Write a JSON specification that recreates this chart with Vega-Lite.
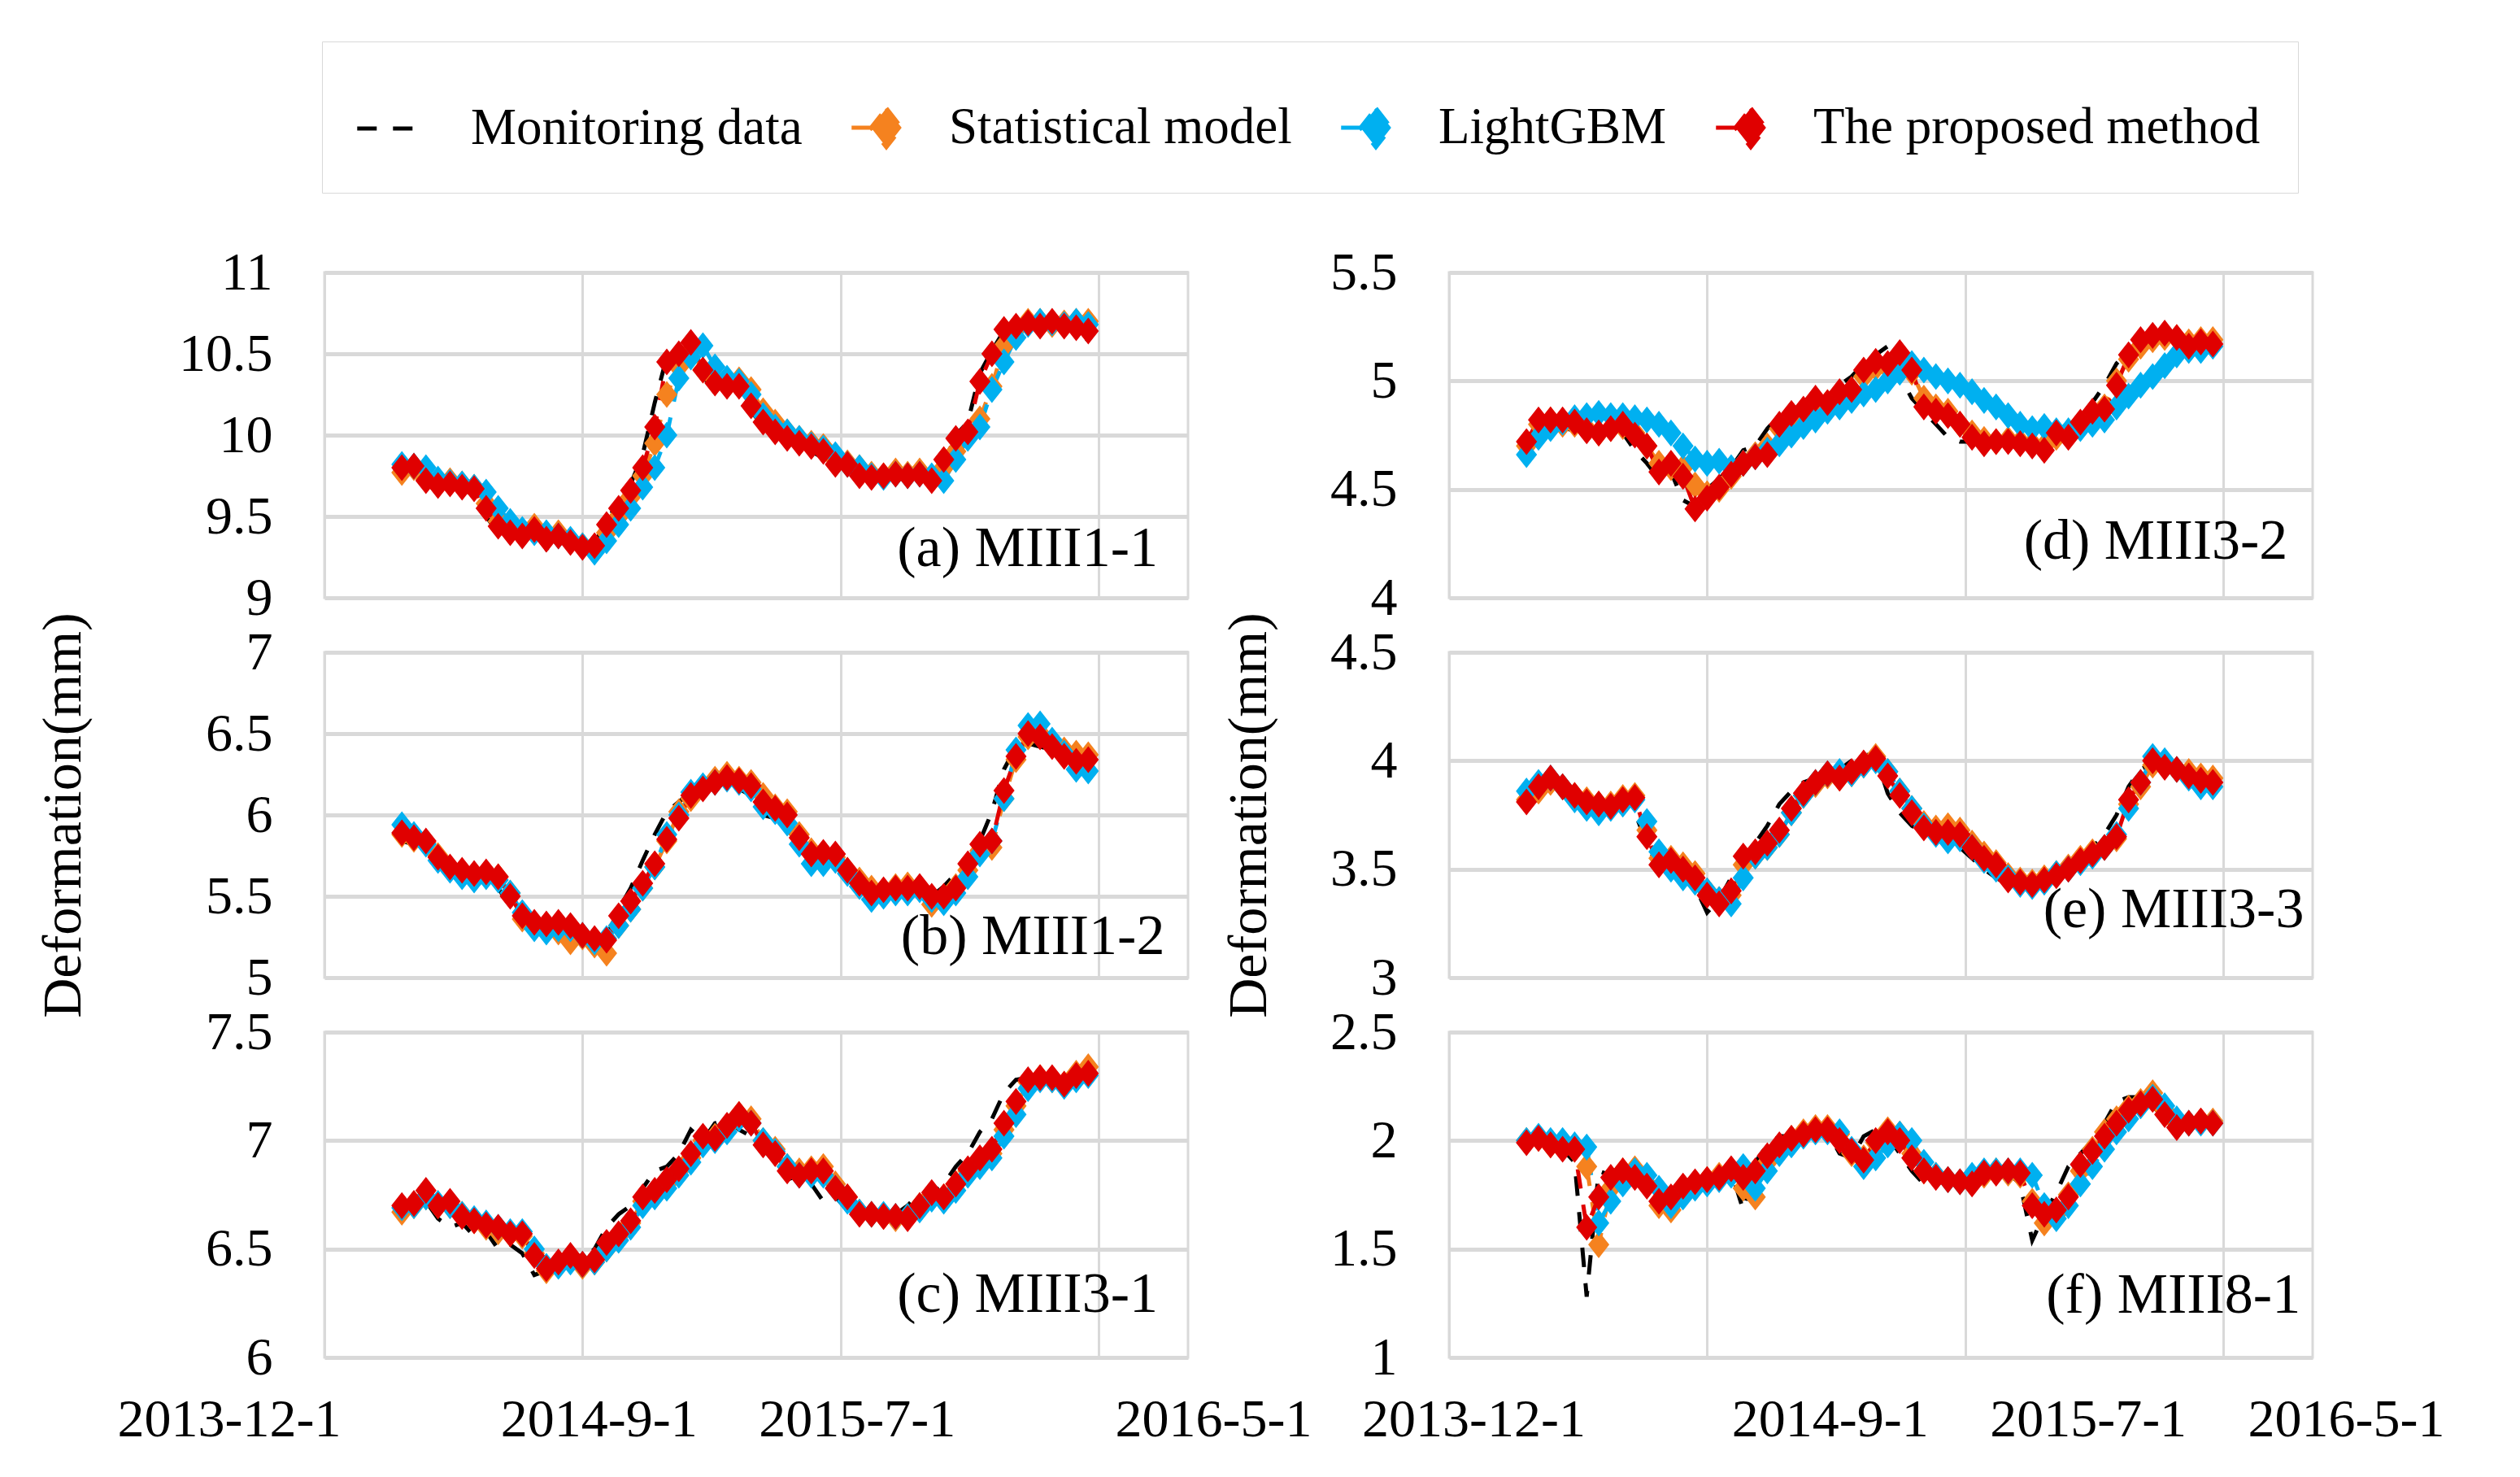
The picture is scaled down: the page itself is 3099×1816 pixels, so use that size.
{
"$schema":"https://vega.github.io/schema/vega-lite/v6.json",
"background":"white",
"padding":{"left":43,"top":50,"right":0,"bottom":0},
"config":{
"font":"Liberation Serif",
"view":{"stroke":"#D9D9D9","strokeWidth":3},
"axis":{"labelFont":"Liberation Serif","labelFontSize":66,"labelColor":"black","labelLimit":1000,"titleFont":"Liberation Serif","titleFontSize":68,"titleFontWeight":"normal","titleColor":"black","domain":false,"ticks":false,"gridColor":"#D9D9D9"},
"axisY":{"gridWidth":5,"labelPadding":64},
"axisX":{"gridWidth":3},
"line":{"strokeDash":[24,20],"strokeWidth":5},
"point":{"filled":true,"size":6209,"opacity":1,"strokeWidth":0},
"text":{"font":"Liberation Serif","fontSize":70,"align":"right","baseline":"middle"}
},
"datasets":{
"a":[
{"t":90,"m":9.78,"s":9.77,"l":9.82,"r":9.80},
{"t":104,"m":9.80,"s":9.80,"l":9.81,"r":9.81},
{"t":118,"m":9.70,"s":9.73,"l":9.80,"r":9.72},
{"t":132,"m":9.66,"s":9.70,"l":9.73,"r":9.69},
{"t":146,"m":9.70,"s":9.72,"l":9.71,"r":9.70},
{"t":160,"m":9.66,"s":9.70,"l":9.70,"r":9.68},
{"t":174,"m":9.64,"s":9.68,"l":9.68,"r":9.67},
{"t":188,"m":9.50,"s":9.58,"l":9.65,"r":9.55},
{"t":202,"m":9.40,"s":9.47,"l":9.55,"r":9.44},
{"t":216,"m":9.40,"s":9.42,"l":9.47,"r":9.40},
{"t":230,"m":9.36,"s":9.40,"l":9.42,"r":9.38},
{"t":244,"m":9.42,"s":9.44,"l":9.40,"r":9.42},
{"t":258,"m":9.30,"s":9.38,"l":9.40,"r":9.36},
{"t":272,"m":9.36,"s":9.40,"l":9.38,"r":9.38},
{"t":286,"m":9.34,"s":9.35,"l":9.36,"r":9.34},
{"t":300,"m":9.30,"s":9.32,"l":9.32,"r":9.31},
{"t":314,"m":9.33,"s":9.30,"l":9.28,"r":9.32},
{"t":328,"m":9.48,"s":9.40,"l":9.35,"r":9.45},
{"t":342,"m":9.58,"s":9.50,"l":9.45,"r":9.55},
{"t":356,"m":9.70,"s":9.62,"l":9.55,"r":9.66},
{"t":370,"m":9.88,"s":9.75,"l":9.68,"r":9.80},
{"t":384,"m":10.20,"s":9.95,"l":9.80,"r":10.05},
{"t":398,"m":10.48,"s":10.25,"l":10.00,"r":10.45},
{"t":412,"m":10.52,"s":10.42,"l":10.35,"r":10.50},
{"t":426,"m":10.50,"s":10.52,"l":10.48,"r":10.57},
{"t":440,"m":10.35,"s":10.40,"l":10.55,"r":10.40},
{"t":454,"m":10.30,"s":10.34,"l":10.42,"r":10.32},
{"t":468,"m":10.28,"s":10.32,"l":10.35,"r":10.30},
{"t":482,"m":10.30,"s":10.34,"l":10.33,"r":10.30},
{"t":496,"m":10.15,"s":10.28,"l":10.25,"r":10.18},
{"t":510,"m":10.05,"s":10.15,"l":10.12,"r":10.08},
{"t":524,"m":10.00,"s":10.08,"l":10.05,"r":10.02},
{"t":538,"m":9.96,"s":10.02,"l":10.02,"r":9.98},
{"t":552,"m":9.93,"s":9.98,"l":9.98,"r":9.95},
{"t":566,"m":9.90,"s":9.95,"l":9.94,"r":9.93},
{"t":580,"m":9.86,"s":9.93,"l":9.92,"r":9.90},
{"t":594,"m":9.80,"s":9.85,"l":9.88,"r":9.82},
{"t":608,"m":9.80,"s":9.83,"l":9.82,"r":9.82},
{"t":622,"m":9.73,"s":9.80,"l":9.80,"r":9.75},
{"t":636,"m":9.72,"s":9.76,"l":9.75,"r":9.74},
{"t":650,"m":9.74,"s":9.75,"l":9.74,"r":9.75},
{"t":664,"m":9.75,"s":9.78,"l":9.76,"r":9.76},
{"t":678,"m":9.74,"s":9.76,"l":9.75,"r":9.75},
{"t":692,"m":9.75,"s":9.78,"l":9.76,"r":9.76},
{"t":706,"m":9.73,"s":9.74,"l":9.75,"r":9.72},
{"t":720,"m":9.88,"s":9.80,"l":9.72,"r":9.85},
{"t":734,"m":10.00,"s":9.90,"l":9.85,"r":9.98},
{"t":748,"m":10.08,"s":10.00,"l":9.98,"r":10.02},
{"t":762,"m":10.38,"s":10.10,"l":10.05,"r":10.33},
{"t":776,"m":10.52,"s":10.30,"l":10.28,"r":10.50},
{"t":790,"m":10.64,"s":10.55,"l":10.45,"r":10.65},
{"t":804,"m":10.68,"s":10.65,"l":10.60,"r":10.67},
{"t":818,"m":10.70,"s":10.70,"l":10.68,"r":10.69},
{"t":832,"m":10.67,"s":10.70,"l":10.70,"r":10.67},
{"t":846,"m":10.69,"s":10.68,"l":10.69,"r":10.70},
{"t":860,"m":10.66,"s":10.69,"l":10.68,"r":10.67},
{"t":874,"m":10.66,"s":10.70,"l":10.70,"r":10.66},
{"t":888,"m":10.58,"s":10.70,"l":10.68,"r":10.64}
],
"b":[
{"t":90,"m":5.84,"s":5.88,"l":5.94,"r":5.89},
{"t":104,"m":5.82,"s":5.85,"l":5.88,"r":5.86},
{"t":118,"m":5.80,"s":5.83,"l":5.82,"r":5.84},
{"t":132,"m":5.72,"s":5.75,"l":5.72,"r":5.74},
{"t":146,"m":5.66,"s":5.67,"l":5.66,"r":5.68},
{"t":160,"m":5.64,"s":5.65,"l":5.62,"r":5.66},
{"t":174,"m":5.62,"s":5.62,"l":5.60,"r":5.64},
{"t":188,"m":5.64,"s":5.63,"l":5.62,"r":5.65},
{"t":202,"m":5.55,"s":5.62,"l":5.60,"r":5.62},
{"t":216,"m":5.44,"s":5.52,"l":5.52,"r":5.50},
{"t":230,"m":5.36,"s":5.36,"l":5.40,"r":5.38},
{"t":244,"m":5.32,"s":5.33,"l":5.30,"r":5.34},
{"t":258,"m":5.34,"s":5.30,"l":5.28,"r":5.33},
{"t":272,"m":5.33,"s":5.28,"l":5.30,"r":5.34},
{"t":286,"m":5.30,"s":5.22,"l":5.30,"r":5.32},
{"t":300,"m":5.25,"s":5.25,"l":5.26,"r":5.26},
{"t":314,"m":5.22,"s":5.20,"l":5.22,"r":5.24},
{"t":328,"m":5.25,"s":5.15,"l":5.24,"r":5.23},
{"t":342,"m":5.42,"s":5.32,"l":5.32,"r":5.38},
{"t":356,"m":5.55,"s":5.42,"l":5.42,"r":5.47},
{"t":370,"m":5.72,"s":5.55,"l":5.55,"r":5.58},
{"t":384,"m":5.88,"s":5.68,"l":5.68,"r":5.70},
{"t":398,"m":6.02,"s":5.84,"l":5.88,"r":5.85},
{"t":412,"m":6.08,"s":6.02,"l":6.00,"r":5.98},
{"t":426,"m":6.14,"s":6.10,"l":6.14,"r":6.12},
{"t":440,"m":6.18,"s":6.17,"l":6.18,"r":6.16},
{"t":454,"m":6.20,"s":6.22,"l":6.20,"r":6.20},
{"t":468,"m":6.22,"s":6.25,"l":6.22,"r":6.23},
{"t":482,"m":6.16,"s":6.22,"l":6.20,"r":6.21},
{"t":496,"m":6.12,"s":6.20,"l":6.16,"r":6.18},
{"t":510,"m":6.00,"s":6.12,"l":6.05,"r":6.08},
{"t":524,"m":5.98,"s":6.05,"l":6.02,"r":6.04},
{"t":538,"m":5.92,"s":6.02,"l":5.95,"r":6.00},
{"t":552,"m":5.80,"s":5.88,"l":5.82,"r":5.86},
{"t":566,"m":5.76,"s":5.78,"l":5.70,"r":5.76},
{"t":580,"m":5.77,"s":5.76,"l":5.70,"r":5.77},
{"t":594,"m":5.73,"s":5.74,"l":5.72,"r":5.76},
{"t":608,"m":5.62,"s":5.66,"l":5.64,"r":5.66},
{"t":622,"m":5.56,"s":5.60,"l":5.56,"r":5.58},
{"t":636,"m":5.52,"s":5.55,"l":5.48,"r":5.52},
{"t":650,"m":5.54,"s":5.52,"l":5.50,"r":5.54},
{"t":664,"m":5.55,"s":5.56,"l":5.52,"r":5.55},
{"t":678,"m":5.54,"s":5.57,"l":5.52,"r":5.55},
{"t":692,"m":5.52,"s":5.55,"l":5.54,"r":5.56},
{"t":706,"m":5.50,"s":5.45,"l":5.48,"r":5.50},
{"t":720,"m":5.56,"s":5.48,"l":5.46,"r":5.50},
{"t":734,"m":5.64,"s":5.56,"l":5.52,"r":5.55},
{"t":748,"m":5.72,"s":5.66,"l":5.62,"r":5.70},
{"t":762,"m":5.84,"s":5.78,"l":5.76,"r":5.82},
{"t":776,"m":6.02,"s":5.80,"l":5.84,"r":5.84},
{"t":790,"m":6.28,"s":6.10,"l":6.10,"r":6.15},
{"t":804,"m":6.42,"s":6.34,"l":6.40,"r":6.36},
{"t":818,"m":6.44,"s":6.48,"l":6.55,"r":6.50},
{"t":832,"m":6.42,"s":6.50,"l":6.56,"r":6.48},
{"t":846,"m":6.40,"s":6.45,"l":6.46,"r":6.42},
{"t":860,"m":6.36,"s":6.40,"l":6.38,"r":6.36},
{"t":874,"m":6.33,"s":6.38,"l":6.28,"r":6.33},
{"t":888,"m":6.32,"s":6.37,"l":6.27,"r":6.34}
],
"c":[
{"t":90,"m":6.68,"s":6.67,"l":6.69,"r":6.70},
{"t":104,"m":6.74,"s":6.70,"l":6.70,"r":6.71},
{"t":118,"m":6.72,"s":6.74,"l":6.74,"r":6.77},
{"t":132,"m":6.64,"s":6.70,"l":6.71,"r":6.70},
{"t":146,"m":6.60,"s":6.70,"l":6.70,"r":6.72},
{"t":160,"m":6.62,"s":6.66,"l":6.66,"r":6.65},
{"t":174,"m":6.56,"s":6.63,"l":6.64,"r":6.63},
{"t":188,"m":6.58,"s":6.60,"l":6.62,"r":6.61},
{"t":202,"m":6.50,"s":6.58,"l":6.60,"r":6.60},
{"t":216,"m":6.52,"s":6.57,"l":6.58,"r":6.57},
{"t":230,"m":6.48,"s":6.56,"l":6.58,"r":6.57},
{"t":244,"m":6.38,"s":6.48,"l":6.50,"r":6.47},
{"t":258,"m":6.40,"s":6.40,"l":6.42,"r":6.41},
{"t":272,"m":6.45,"s":6.43,"l":6.42,"r":6.44},
{"t":286,"m":6.44,"s":6.45,"l":6.44,"r":6.47},
{"t":300,"m":6.45,"s":6.42,"l":6.43,"r":6.43},
{"t":314,"m":6.50,"s":6.44,"l":6.44,"r":6.45},
{"t":328,"m":6.60,"s":6.50,"l":6.50,"r":6.53},
{"t":342,"m":6.66,"s":6.56,"l":6.54,"r":6.57},
{"t":356,"m":6.70,"s":6.62,"l":6.60,"r":6.63},
{"t":370,"m":6.78,"s":6.72,"l":6.70,"r":6.74},
{"t":384,"m":6.86,"s":6.76,"l":6.74,"r":6.77},
{"t":398,"m":6.88,"s":6.80,"l":6.78,"r":6.82},
{"t":412,"m":6.94,"s":6.86,"l":6.84,"r":6.87},
{"t":426,"m":7.05,"s":6.92,"l":6.90,"r":6.94},
{"t":440,"m":7.00,"s":7.00,"l":6.98,"r":7.02},
{"t":454,"m":7.08,"s":7.02,"l":7.00,"r":7.01},
{"t":468,"m":7.10,"s":7.06,"l":7.04,"r":7.07},
{"t":482,"m":7.05,"s":7.12,"l":7.10,"r":7.12},
{"t":496,"m":7.02,"s":7.10,"l":7.08,"r":7.08},
{"t":510,"m":6.96,"s":7.00,"l":7.00,"r":6.98},
{"t":524,"m":6.90,"s":6.96,"l":6.95,"r":6.94},
{"t":538,"m":6.82,"s":6.88,"l":6.88,"r":6.86},
{"t":552,"m":6.84,"s":6.86,"l":6.84,"r":6.84},
{"t":566,"m":6.80,"s":6.87,"l":6.84,"r":6.86},
{"t":580,"m":6.72,"s":6.88,"l":6.84,"r":6.86},
{"t":594,"m":6.74,"s":6.80,"l":6.78,"r":6.78},
{"t":608,"m":6.68,"s":6.74,"l":6.72,"r":6.74},
{"t":622,"m":6.63,"s":6.67,"l":6.67,"r":6.66},
{"t":636,"m":6.66,"s":6.66,"l":6.66,"r":6.66},
{"t":650,"m":6.65,"s":6.65,"l":6.66,"r":6.65},
{"t":664,"m":6.66,"s":6.64,"l":6.65,"r":6.65},
{"t":678,"m":6.70,"s":6.65,"l":6.65,"r":6.64},
{"t":692,"m":6.76,"s":6.70,"l":6.68,"r":6.70},
{"t":706,"m":6.75,"s":6.75,"l":6.73,"r":6.76},
{"t":720,"m":6.80,"s":6.74,"l":6.72,"r":6.74},
{"t":734,"m":6.88,"s":6.80,"l":6.77,"r":6.80},
{"t":748,"m":6.94,"s":6.86,"l":6.84,"r":6.87},
{"t":762,"m":7.04,"s":6.90,"l":6.88,"r":6.92},
{"t":776,"m":7.10,"s":6.94,"l":6.92,"r":6.96},
{"t":790,"m":7.22,"s":7.05,"l":7.02,"r":7.08},
{"t":804,"m":7.28,"s":7.16,"l":7.12,"r":7.18},
{"t":818,"m":7.29,"s":7.27,"l":7.24,"r":7.28},
{"t":832,"m":7.28,"s":7.29,"l":7.28,"r":7.29},
{"t":846,"m":7.30,"s":7.28,"l":7.28,"r":7.29},
{"t":860,"m":7.27,"s":7.26,"l":7.25,"r":7.26},
{"t":874,"m":7.30,"s":7.31,"l":7.28,"r":7.30},
{"t":888,"m":7.29,"s":7.34,"l":7.30,"r":7.31}
],
"d":[
{"t":90,"m":4.72,"s":4.70,"l":4.66,"r":4.72},
{"t":104,"m":4.80,"s":4.80,"l":4.74,"r":4.82},
{"t":118,"m":4.81,"s":4.82,"l":4.78,"r":4.82},
{"t":132,"m":4.80,"s":4.80,"l":4.81,"r":4.82},
{"t":146,"m":4.76,"s":4.80,"l":4.83,"r":4.81},
{"t":160,"m":4.74,"s":4.78,"l":4.84,"r":4.77},
{"t":174,"m":4.76,"s":4.76,"l":4.85,"r":4.76},
{"t":188,"m":4.78,"s":4.78,"l":4.84,"r":4.78},
{"t":202,"m":4.76,"s":4.79,"l":4.84,"r":4.80},
{"t":216,"m":4.68,"s":4.76,"l":4.83,"r":4.75},
{"t":230,"m":4.62,"s":4.70,"l":4.82,"r":4.70},
{"t":244,"m":4.55,"s":4.62,"l":4.80,"r":4.58},
{"t":258,"m":4.58,"s":4.60,"l":4.76,"r":4.62},
{"t":272,"m":4.45,"s":4.60,"l":4.70,"r":4.56},
{"t":286,"m":4.42,"s":4.52,"l":4.64,"r":4.41},
{"t":300,"m":4.50,"s":4.48,"l":4.62,"r":4.46},
{"t":314,"m":4.55,"s":4.50,"l":4.63,"r":4.51},
{"t":328,"m":4.60,"s":4.56,"l":4.60,"r":4.57},
{"t":342,"m":4.68,"s":4.62,"l":4.62,"r":4.62},
{"t":356,"m":4.70,"s":4.66,"l":4.65,"r":4.65},
{"t":370,"m":4.78,"s":4.70,"l":4.68,"r":4.66},
{"t":384,"m":4.84,"s":4.78,"l":4.71,"r":4.80},
{"t":398,"m":4.86,"s":4.84,"l":4.75,"r":4.85},
{"t":412,"m":4.90,"s":4.86,"l":4.79,"r":4.87},
{"t":426,"m":4.92,"s":4.90,"l":4.82,"r":4.92},
{"t":440,"m":4.93,"s":4.90,"l":4.86,"r":4.90},
{"t":454,"m":4.98,"s":4.94,"l":4.88,"r":4.95},
{"t":468,"m":5.02,"s":4.96,"l":4.91,"r":4.96},
{"t":482,"m":5.08,"s":5.02,"l":4.94,"r":5.05},
{"t":496,"m":5.12,"s":5.06,"l":4.96,"r":5.09},
{"t":510,"m":5.16,"s":5.06,"l":5.00,"r":5.08},
{"t":524,"m":5.02,"s":5.10,"l":5.04,"r":5.13},
{"t":538,"m":4.92,"s":5.04,"l":5.08,"r":5.05},
{"t":552,"m":4.86,"s":4.92,"l":5.05,"r":4.88},
{"t":566,"m":4.80,"s":4.88,"l":5.02,"r":4.86},
{"t":580,"m":4.74,"s":4.86,"l":5.00,"r":4.84},
{"t":594,"m":4.72,"s":4.80,"l":4.98,"r":4.80},
{"t":608,"m":4.72,"s":4.76,"l":4.95,"r":4.74},
{"t":622,"m":4.70,"s":4.73,"l":4.91,"r":4.71},
{"t":636,"m":4.71,"s":4.72,"l":4.88,"r":4.72},
{"t":650,"m":4.72,"s":4.73,"l":4.84,"r":4.72},
{"t":664,"m":4.70,"s":4.72,"l":4.80,"r":4.71},
{"t":678,"m":4.70,"s":4.71,"l":4.78,"r":4.70},
{"t":692,"m":4.72,"s":4.70,"l":4.79,"r":4.68},
{"t":706,"m":4.76,"s":4.74,"l":4.77,"r":4.76},
{"t":720,"m":4.78,"s":4.75,"l":4.77,"r":4.74},
{"t":734,"m":4.84,"s":4.80,"l":4.78,"r":4.81},
{"t":748,"m":4.90,"s":4.84,"l":4.80,"r":4.86},
{"t":762,"m":4.98,"s":4.88,"l":4.82,"r":4.87},
{"t":776,"m":5.08,"s":5.00,"l":4.88,"r":4.98},
{"t":790,"m":5.14,"s":5.10,"l":4.93,"r":5.12},
{"t":804,"m":5.18,"s":5.16,"l":4.98,"r":5.19},
{"t":818,"m":5.20,"s":5.19,"l":5.02,"r":5.21},
{"t":832,"m":5.19,"s":5.20,"l":5.07,"r":5.22},
{"t":846,"m":5.18,"s":5.20,"l":5.12,"r":5.20},
{"t":860,"m":5.16,"s":5.18,"l":5.14,"r":5.16},
{"t":874,"m":5.19,"s":5.19,"l":5.14,"r":5.18},
{"t":888,"m":5.18,"s":5.19,"l":5.16,"r":5.17}
],
"e":[
{"t":90,"m":3.84,"s":3.82,"l":3.86,"r":3.81},
{"t":104,"m":3.92,"s":3.86,"l":3.90,"r":3.88},
{"t":118,"m":3.90,"s":3.90,"l":3.92,"r":3.92},
{"t":132,"m":3.84,"s":3.88,"l":3.88,"r":3.88},
{"t":146,"m":3.80,"s":3.84,"l":3.82,"r":3.84},
{"t":160,"m":3.78,"s":3.82,"l":3.78,"r":3.81},
{"t":174,"m":3.79,"s":3.80,"l":3.76,"r":3.80},
{"t":188,"m":3.80,"s":3.80,"l":3.78,"r":3.79},
{"t":202,"m":3.82,"s":3.83,"l":3.80,"r":3.82},
{"t":216,"m":3.76,"s":3.84,"l":3.82,"r":3.83},
{"t":230,"m":3.62,"s":3.68,"l":3.72,"r":3.65},
{"t":244,"m":3.50,"s":3.55,"l":3.58,"r":3.52},
{"t":258,"m":3.50,"s":3.55,"l":3.50,"r":3.54},
{"t":272,"m":3.47,"s":3.52,"l":3.46,"r":3.50},
{"t":286,"m":3.42,"s":3.48,"l":3.44,"r":3.46},
{"t":300,"m":3.30,"s":3.40,"l":3.40,"r":3.38},
{"t":314,"m":3.36,"s":3.36,"l":3.36,"r":3.34},
{"t":328,"m":3.46,"s":3.38,"l":3.34,"r":3.40},
{"t":342,"m":3.58,"s":3.52,"l":3.46,"r":3.56},
{"t":356,"m":3.62,"s":3.56,"l":3.56,"r":3.58},
{"t":370,"m":3.70,"s":3.60,"l":3.60,"r":3.62},
{"t":384,"m":3.80,"s":3.66,"l":3.66,"r":3.68},
{"t":398,"m":3.86,"s":3.76,"l":3.76,"r":3.78},
{"t":412,"m":3.90,"s":3.84,"l":3.84,"r":3.85},
{"t":426,"m":3.92,"s":3.89,"l":3.90,"r":3.90},
{"t":440,"m":3.95,"s":3.93,"l":3.94,"r":3.94},
{"t":454,"m":3.96,"s":3.92,"l":3.95,"r":3.92},
{"t":468,"m":4.00,"s":3.94,"l":3.94,"r":3.95},
{"t":482,"m":4.03,"s":3.98,"l":3.98,"r":3.99},
{"t":496,"m":4.02,"s":4.02,"l":4.00,"r":4.01},
{"t":510,"m":3.85,"s":3.95,"l":3.95,"r":3.93},
{"t":524,"m":3.76,"s":3.86,"l":3.86,"r":3.84},
{"t":538,"m":3.70,"s":3.78,"l":3.78,"r":3.76},
{"t":552,"m":3.67,"s":3.71,"l":3.70,"r":3.69},
{"t":566,"m":3.66,"s":3.69,"l":3.66,"r":3.67},
{"t":580,"m":3.64,"s":3.70,"l":3.63,"r":3.67},
{"t":594,"m":3.60,"s":3.68,"l":3.64,"r":3.66},
{"t":608,"m":3.55,"s":3.62,"l":3.60,"r":3.60},
{"t":622,"m":3.50,"s":3.57,"l":3.54,"r":3.55},
{"t":636,"m":3.46,"s":3.53,"l":3.50,"r":3.52},
{"t":650,"m":3.43,"s":3.47,"l":3.46,"r":3.45},
{"t":664,"m":3.42,"s":3.45,"l":3.43,"r":3.44},
{"t":678,"m":3.43,"s":3.44,"l":3.42,"r":3.43},
{"t":692,"m":3.46,"s":3.46,"l":3.44,"r":3.45},
{"t":706,"m":3.49,"s":3.48,"l":3.48,"r":3.47},
{"t":720,"m":3.52,"s":3.51,"l":3.50,"r":3.50},
{"t":734,"m":3.56,"s":3.55,"l":3.53,"r":3.54},
{"t":748,"m":3.60,"s":3.58,"l":3.56,"r":3.57},
{"t":762,"m":3.66,"s":3.60,"l":3.60,"r":3.60},
{"t":776,"m":3.75,"s":3.64,"l":3.66,"r":3.65},
{"t":790,"m":3.88,"s":3.80,"l":3.78,"r":3.82},
{"t":804,"m":3.96,"s":3.88,"l":3.90,"r":3.90},
{"t":818,"m":3.99,"s":3.98,"l":4.02,"r":4.00},
{"t":832,"m":3.96,"s":3.98,"l":4.00,"r":3.97},
{"t":846,"m":3.94,"s":3.96,"l":3.96,"r":3.96},
{"t":860,"m":3.92,"s":3.95,"l":3.92,"r":3.93},
{"t":874,"m":3.90,"s":3.93,"l":3.88,"r":3.91},
{"t":888,"m":3.89,"s":3.92,"l":3.88,"r":3.90}
],
"f":[
{"t":90,"m":1.98,"s":2.00,"l":2.00,"r":1.99},
{"t":104,"m":2.00,"s":2.01,"l":2.02,"r":2.01},
{"t":118,"m":1.96,"s":1.98,"l":2.00,"r":1.98},
{"t":132,"m":1.96,"s":1.97,"l":2.00,"r":1.96},
{"t":146,"m":1.90,"s":1.96,"l":1.98,"r":1.96},
{"t":160,"m":1.28,"s":1.88,"l":1.97,"r":1.60},
{"t":174,"m":1.86,"s":1.52,"l":1.62,"r":1.74},
{"t":188,"m":1.84,"s":1.78,"l":1.72,"r":1.83},
{"t":202,"m":1.88,"s":1.86,"l":1.80,"r":1.86},
{"t":216,"m":1.84,"s":1.87,"l":1.86,"r":1.83},
{"t":230,"m":1.75,"s":1.80,"l":1.84,"r":1.79},
{"t":244,"m":1.70,"s":1.70,"l":1.78,"r":1.72},
{"t":258,"m":1.74,"s":1.68,"l":1.70,"r":1.74},
{"t":272,"m":1.80,"s":1.76,"l":1.74,"r":1.79},
{"t":286,"m":1.82,"s":1.80,"l":1.78,"r":1.81},
{"t":300,"m":1.84,"s":1.82,"l":1.80,"r":1.82},
{"t":314,"m":1.82,"s":1.84,"l":1.82,"r":1.83},
{"t":328,"m":1.86,"s":1.86,"l":1.84,"r":1.87},
{"t":342,"m":1.68,"s":1.78,"l":1.88,"r":1.83},
{"t":356,"m":1.90,"s":1.74,"l":1.78,"r":1.86},
{"t":370,"m":1.98,"s":1.90,"l":1.86,"r":1.93},
{"t":384,"m":2.02,"s":1.96,"l":1.94,"r":1.98},
{"t":398,"m":2.02,"s":2.01,"l":1.98,"r":2.01},
{"t":412,"m":2.04,"s":2.04,"l":2.02,"r":2.03},
{"t":426,"m":2.05,"s":2.06,"l":2.04,"r":2.05},
{"t":440,"m":2.04,"s":2.06,"l":2.04,"r":2.05},
{"t":454,"m":1.94,"s":2.03,"l":2.04,"r":2.00},
{"t":468,"m":1.92,"s":1.94,"l":1.96,"r":1.95},
{"t":482,"m":2.02,"s":1.92,"l":1.88,"r":1.91},
{"t":496,"m":2.05,"s":1.99,"l":1.92,"r":2.00},
{"t":510,"m":2.02,"s":2.05,"l":1.98,"r":2.04},
{"t":524,"m":1.94,"s":2.03,"l":2.03,"r":2.00},
{"t":538,"m":1.86,"s":1.94,"l":2.00,"r":1.92},
{"t":552,"m":1.80,"s":1.86,"l":1.90,"r":1.86},
{"t":566,"m":1.80,"s":1.84,"l":1.84,"r":1.83},
{"t":580,"m":1.82,"s":1.82,"l":1.82,"r":1.82},
{"t":594,"m":1.80,"s":1.81,"l":1.81,"r":1.81},
{"t":608,"m":1.82,"s":1.82,"l":1.84,"r":1.80},
{"t":622,"m":1.86,"s":1.84,"l":1.86,"r":1.85},
{"t":636,"m":1.86,"s":1.86,"l":1.86,"r":1.85},
{"t":650,"m":1.85,"s":1.85,"l":1.86,"r":1.86},
{"t":664,"m":1.80,"s":1.84,"l":1.86,"r":1.85},
{"t":678,"m":1.54,"s":1.72,"l":1.84,"r":1.70},
{"t":692,"m":1.66,"s":1.62,"l":1.70,"r":1.66},
{"t":706,"m":1.76,"s":1.66,"l":1.64,"r":1.68},
{"t":720,"m":1.88,"s":1.75,"l":1.70,"r":1.74},
{"t":734,"m":1.94,"s":1.86,"l":1.80,"r":1.89},
{"t":748,"m":2.00,"s":1.96,"l":1.88,"r":1.95},
{"t":762,"m":2.08,"s":2.04,"l":1.96,"r":2.02},
{"t":776,"m":2.18,"s":2.10,"l":2.04,"r":2.08},
{"t":790,"m":2.20,"s":2.15,"l":2.10,"r":2.14},
{"t":804,"m":2.20,"s":2.18,"l":2.16,"r":2.17},
{"t":818,"m":2.16,"s":2.22,"l":2.20,"r":2.19},
{"t":832,"m":2.10,"s":2.14,"l":2.16,"r":2.12},
{"t":846,"m":2.06,"s":2.08,"l":2.10,"r":2.06},
{"t":860,"m":2.08,"s":2.08,"l":2.08,"r":2.08},
{"t":874,"m":2.08,"s":2.09,"l":2.08,"r":2.09},
{"t":888,"m":2.07,"s":2.09,"l":2.08,"r":2.08}
]
},
"columns":2,
"spacing":{"row":67,"column":321},
"bounds":"flush",
"resolve":{"scale":{"color":"shared","shape":"shared"},"legend":{"color":"shared","shape":"shared"}},
"concat":[
{
"width":1062,"height":400,
"encoding":{
"x":{"field":"t","type":"quantitative","scale":{"domain":[0,1004]},"axis":{"values":[0,300,600,900],"grid":true,"labels":false,"title":null}},
"y":{"field":"v","type":"quantitative","scale":{"domain":[9,11]},"axis":{"values":[9,9.5,10,10.5,11],"format":"~g","title":null}},
"color":{"field":"k","type":"nominal","scale":{"domain":["m","s","l","r"],"range":["#000000","#F5821F","#00B0F0","#E00000"]},"legend":{"orient":"none","legendX":-3,"legendY":-284,"direction":"horizontal","title":null,"labelExpr":"datum.label == 'm' ? 'Monitoring data' : datum.label == 's' ? 'Statistical model' : datum.label == 'l' ? 'LightGBM' : 'The proposed method'","labelFont":"Liberation Serif","labelFontSize":63,"labelColor":"black","labelLimit":2000,"labelOffset":17,"columnPadding":43,"symbolSize":13000,"symbolStrokeWidth":6,"symbolOpacity":1,"padding":46,"strokeColor":"#D9D9D9","fillColor":"white"}}
},
"layer":[
{"data":{"values":[{"t":969,"v":9.3,"label":"(a) MIII1-1"}]},"mark":{"type":"text"},"encoding":{"text":{"field":"label"},"color":{"value":"black"}}},
{"data":{"name":"a"},"transform":[{"fold":["m","s","l","r"],"as":["k","v"]}],"layer":[
{"mark":{"type":"line"}},
{"transform":[{"filter":"datum.k == 's'"}],"mark":{"type":"point"},"encoding":{"shape":{"field":"k","type":"nominal","scale":{"domain":["m","s","l","r"],"range":["M-1.1,0H0.1","M-0.75,0H-0.33M0,-0.42L0.33,0L0,0.42L-0.33,0Z","M-0.75,0H-0.33M0,-0.42L0.33,0L0,0.42L-0.33,0Z","M-0.75,0H-0.33M0,-0.42L0.33,0L0,0.42L-0.33,0Z"]},"legend":{"orient":"none","legendX":-3,"legendY":-284,"direction":"horizontal","title":null,"labelExpr":"datum.label == 'm' ? 'Monitoring data' : datum.label == 's' ? 'Statistical model' : datum.label == 'l' ? 'LightGBM' : 'The proposed method'","labelFont":"Liberation Serif","labelFontSize":63,"labelColor":"black","labelLimit":2000,"labelOffset":17,"columnPadding":43,"symbolSize":13000,"symbolStrokeWidth":6,"symbolOpacity":1,"padding":46,"strokeColor":"#D9D9D9","fillColor":"white"}}}},
{"transform":[{"filter":"datum.k == 'l'"}],"mark":{"type":"point"},"encoding":{"shape":{"field":"k","type":"nominal","scale":{"domain":["m","s","l","r"],"range":["M-1.1,0H0.1","M-0.75,0H-0.33M0,-0.42L0.33,0L0,0.42L-0.33,0Z","M-0.75,0H-0.33M0,-0.42L0.33,0L0,0.42L-0.33,0Z","M-0.75,0H-0.33M0,-0.42L0.33,0L0,0.42L-0.33,0Z"]}}}},
{"transform":[{"filter":"datum.k == 'r'"}],"mark":{"type":"point"},"encoding":{"shape":{"field":"k","type":"nominal","scale":{"domain":["m","s","l","r"],"range":["M-1.1,0H0.1","M-0.75,0H-0.33M0,-0.42L0.33,0L0,0.42L-0.33,0Z","M-0.75,0H-0.33M0,-0.42L0.33,0L0,0.42L-0.33,0Z","M-0.75,0H-0.33M0,-0.42L0.33,0L0,0.42L-0.33,0Z"]}}}}
]}
]
},
{
"width":1062,"height":400,
"encoding":{
"x":{"field":"t","type":"quantitative","scale":{"domain":[0,1004]},"axis":{"values":[0,300,600,900],"grid":true,"labels":false,"title":null}},
"y":{"field":"v","type":"quantitative","scale":{"domain":[4,5.5]},"axis":{"values":[4,4.5,5,5.5],"format":"~g","title":null}},
"color":{"field":"k","type":"nominal","scale":{"domain":["m","s","l","r"],"range":["#000000","#F5821F","#00B0F0","#E00000"]}}
},
"layer":[
{"data":{"values":[{"t":975,"v":4.26,"label":"(d) MIII3-2"}]},"mark":{"type":"text"},"encoding":{"text":{"field":"label"},"color":{"value":"black"}}},
{"data":{"name":"d"},"transform":[{"fold":["m","s","l","r"],"as":["k","v"]}],"layer":[
{"mark":{"type":"line"}},
{"transform":[{"filter":"datum.k == 's'"}],"mark":{"type":"point"},"encoding":{"shape":{"field":"k","type":"nominal","scale":{"domain":["m","s","l","r"],"range":["M-1.1,0H0.1","M-0.75,0H-0.33M0,-0.42L0.33,0L0,0.42L-0.33,0Z","M-0.75,0H-0.33M0,-0.42L0.33,0L0,0.42L-0.33,0Z","M-0.75,0H-0.33M0,-0.42L0.33,0L0,0.42L-0.33,0Z"]}}}},
{"transform":[{"filter":"datum.k == 'l'"}],"mark":{"type":"point"},"encoding":{"shape":{"field":"k","type":"nominal","scale":{"domain":["m","s","l","r"],"range":["M-1.1,0H0.1","M-0.75,0H-0.33M0,-0.42L0.33,0L0,0.42L-0.33,0Z","M-0.75,0H-0.33M0,-0.42L0.33,0L0,0.42L-0.33,0Z","M-0.75,0H-0.33M0,-0.42L0.33,0L0,0.42L-0.33,0Z"]}}}},
{"transform":[{"filter":"datum.k == 'r'"}],"mark":{"type":"point"},"encoding":{"shape":{"field":"k","type":"nominal","scale":{"domain":["m","s","l","r"],"range":["M-1.1,0H0.1","M-0.75,0H-0.33M0,-0.42L0.33,0L0,0.42L-0.33,0Z","M-0.75,0H-0.33M0,-0.42L0.33,0L0,0.42L-0.33,0Z","M-0.75,0H-0.33M0,-0.42L0.33,0L0,0.42L-0.33,0Z"]}}}}
]}
]
},
{
"width":1062,"height":400,
"encoding":{
"x":{"field":"t","type":"quantitative","scale":{"domain":[0,1004]},"axis":{"values":[0,300,600,900],"grid":true,"labels":false,"title":null}},
"y":{"field":"v","type":"quantitative","scale":{"domain":[5,7]},"axis":{"values":[5,5.5,6,6.5,7],"format":"~g","title":"Deformation(mm)","titlePadding":140}},
"color":{"field":"k","type":"nominal","scale":{"domain":["m","s","l","r"],"range":["#000000","#F5821F","#00B0F0","#E00000"]}}
},
"layer":[
{"data":{"values":[{"t":977,"v":5.25,"label":"(b) MIII1-2"}]},"mark":{"type":"text"},"encoding":{"text":{"field":"label"},"color":{"value":"black"}}},
{"data":{"name":"b"},"transform":[{"fold":["m","s","l","r"],"as":["k","v"]}],"layer":[
{"mark":{"type":"line"}},
{"transform":[{"filter":"datum.k == 's'"}],"mark":{"type":"point"},"encoding":{"shape":{"field":"k","type":"nominal","scale":{"domain":["m","s","l","r"],"range":["M-1.1,0H0.1","M-0.75,0H-0.33M0,-0.42L0.33,0L0,0.42L-0.33,0Z","M-0.75,0H-0.33M0,-0.42L0.33,0L0,0.42L-0.33,0Z","M-0.75,0H-0.33M0,-0.42L0.33,0L0,0.42L-0.33,0Z"]}}}},
{"transform":[{"filter":"datum.k == 'l'"}],"mark":{"type":"point"},"encoding":{"shape":{"field":"k","type":"nominal","scale":{"domain":["m","s","l","r"],"range":["M-1.1,0H0.1","M-0.75,0H-0.33M0,-0.42L0.33,0L0,0.42L-0.33,0Z","M-0.75,0H-0.33M0,-0.42L0.33,0L0,0.42L-0.33,0Z","M-0.75,0H-0.33M0,-0.42L0.33,0L0,0.42L-0.33,0Z"]}}}},
{"transform":[{"filter":"datum.k == 'r'"}],"mark":{"type":"point"},"encoding":{"shape":{"field":"k","type":"nominal","scale":{"domain":["m","s","l","r"],"range":["M-1.1,0H0.1","M-0.75,0H-0.33M0,-0.42L0.33,0L0,0.42L-0.33,0Z","M-0.75,0H-0.33M0,-0.42L0.33,0L0,0.42L-0.33,0Z","M-0.75,0H-0.33M0,-0.42L0.33,0L0,0.42L-0.33,0Z"]}}}}
]}
]
},
{
"width":1062,"height":400,
"encoding":{
"x":{"field":"t","type":"quantitative","scale":{"domain":[0,1004]},"axis":{"values":[0,300,600,900],"grid":true,"labels":false,"title":null}},
"y":{"field":"v","type":"quantitative","scale":{"domain":[3,4.5]},"axis":{"values":[3,3.5,4,4.5],"format":"~g","title":"Deformation(mm)","titlePadding":65}},
"color":{"field":"k","type":"nominal","scale":{"domain":["m","s","l","r"],"range":["#000000","#F5821F","#00B0F0","#E00000"]}}
},
"layer":[
{"data":{"values":[{"t":994,"v":3.31,"label":"(e) MIII3-3"}]},"mark":{"type":"text"},"encoding":{"text":{"field":"label"},"color":{"value":"black"}}},
{"data":{"name":"e"},"transform":[{"fold":["m","s","l","r"],"as":["k","v"]}],"layer":[
{"mark":{"type":"line"}},
{"transform":[{"filter":"datum.k == 's'"}],"mark":{"type":"point"},"encoding":{"shape":{"field":"k","type":"nominal","scale":{"domain":["m","s","l","r"],"range":["M-1.1,0H0.1","M-0.75,0H-0.33M0,-0.42L0.33,0L0,0.42L-0.33,0Z","M-0.75,0H-0.33M0,-0.42L0.33,0L0,0.42L-0.33,0Z","M-0.75,0H-0.33M0,-0.42L0.33,0L0,0.42L-0.33,0Z"]}}}},
{"transform":[{"filter":"datum.k == 'l'"}],"mark":{"type":"point"},"encoding":{"shape":{"field":"k","type":"nominal","scale":{"domain":["m","s","l","r"],"range":["M-1.1,0H0.1","M-0.75,0H-0.33M0,-0.42L0.33,0L0,0.42L-0.33,0Z","M-0.75,0H-0.33M0,-0.42L0.33,0L0,0.42L-0.33,0Z","M-0.75,0H-0.33M0,-0.42L0.33,0L0,0.42L-0.33,0Z"]}}}},
{"transform":[{"filter":"datum.k == 'r'"}],"mark":{"type":"point"},"encoding":{"shape":{"field":"k","type":"nominal","scale":{"domain":["m","s","l","r"],"range":["M-1.1,0H0.1","M-0.75,0H-0.33M0,-0.42L0.33,0L0,0.42L-0.33,0Z","M-0.75,0H-0.33M0,-0.42L0.33,0L0,0.42L-0.33,0Z","M-0.75,0H-0.33M0,-0.42L0.33,0L0,0.42L-0.33,0Z"]}}}}
]}
]
},
{
"width":1062,"height":400,
"encoding":{
"x":{"field":"t","type":"quantitative","scale":{"domain":[0,1004]},"axis":{"values":[0,300,600,900],"grid":true,"title":null,"labelExpr":"datum.value == 0 ? '2013-12-1' : datum.value == 300 ? '2014-9-1' : datum.value == 600 ? '2015-7-1' : '2016-5-1'","labelFlush":false,"labelOverlap":false,"labelBound":false,"labelPadding":76,"labelBaseline":"middle","labelOffset":20,"labelAlign":{"condition":[{"test":"datum.value == 0","value":"right"},{"test":"datum.value == 900","value":"left"}],"value":"center"}}},
"y":{"field":"v","type":"quantitative","scale":{"domain":[6,7.5]},"axis":{"values":[6,6.5,7,7.5],"format":"~g","title":null}},
"color":{"field":"k","type":"nominal","scale":{"domain":["m","s","l","r"],"range":["#000000","#F5821F","#00B0F0","#E00000"]}}
},
"layer":[
{"data":{"values":[{"t":969,"v":6.29,"label":"(c) MIII3-1"}]},"mark":{"type":"text"},"encoding":{"text":{"field":"label"},"color":{"value":"black"}}},
{"data":{"name":"c"},"transform":[{"fold":["m","s","l","r"],"as":["k","v"]}],"layer":[
{"mark":{"type":"line"}},
{"transform":[{"filter":"datum.k == 's'"}],"mark":{"type":"point"},"encoding":{"shape":{"field":"k","type":"nominal","scale":{"domain":["m","s","l","r"],"range":["M-1.1,0H0.1","M-0.75,0H-0.33M0,-0.42L0.33,0L0,0.42L-0.33,0Z","M-0.75,0H-0.33M0,-0.42L0.33,0L0,0.42L-0.33,0Z","M-0.75,0H-0.33M0,-0.42L0.33,0L0,0.42L-0.33,0Z"]}}}},
{"transform":[{"filter":"datum.k == 'l'"}],"mark":{"type":"point"},"encoding":{"shape":{"field":"k","type":"nominal","scale":{"domain":["m","s","l","r"],"range":["M-1.1,0H0.1","M-0.75,0H-0.33M0,-0.42L0.33,0L0,0.42L-0.33,0Z","M-0.75,0H-0.33M0,-0.42L0.33,0L0,0.42L-0.33,0Z","M-0.75,0H-0.33M0,-0.42L0.33,0L0,0.42L-0.33,0Z"]}}}},
{"transform":[{"filter":"datum.k == 'r'"}],"mark":{"type":"point"},"encoding":{"shape":{"field":"k","type":"nominal","scale":{"domain":["m","s","l","r"],"range":["M-1.1,0H0.1","M-0.75,0H-0.33M0,-0.42L0.33,0L0,0.42L-0.33,0Z","M-0.75,0H-0.33M0,-0.42L0.33,0L0,0.42L-0.33,0Z","M-0.75,0H-0.33M0,-0.42L0.33,0L0,0.42L-0.33,0Z"]}}}}
]}
]
},
{
"width":1062,"height":400,
"encoding":{
"x":{"field":"t","type":"quantitative","scale":{"domain":[0,1004]},"axis":{"values":[0,300,600,900],"grid":true,"title":null,"labelExpr":"datum.value == 0 ? '2013-12-1' : datum.value == 300 ? '2014-9-1' : datum.value == 600 ? '2015-7-1' : '2016-5-1'","labelFlush":false,"labelOverlap":false,"labelBound":false,"labelPadding":76,"labelBaseline":"middle","labelOffset":30,"labelAlign":{"condition":[{"test":"datum.value == 0","value":"center"}],"value":"left"}}},
"y":{"field":"v","type":"quantitative","scale":{"domain":[1,2.5]},"axis":{"values":[1,1.5,2,2.5],"format":"~g","title":null}},
"color":{"field":"k","type":"nominal","scale":{"domain":["m","s","l","r"],"range":["#000000","#F5821F","#00B0F0","#E00000"]}}
},
"layer":[
{"data":{"values":[{"t":990,"v":1.285,"label":"(f) MIII8-1"}]},"mark":{"type":"text"},"encoding":{"text":{"field":"label"},"color":{"value":"black"}}},
{"data":{"name":"f"},"transform":[{"fold":["m","s","l","r"],"as":["k","v"]}],"layer":[
{"mark":{"type":"line"}},
{"transform":[{"filter":"datum.k == 's'"}],"mark":{"type":"point"},"encoding":{"shape":{"field":"k","type":"nominal","scale":{"domain":["m","s","l","r"],"range":["M-1.1,0H0.1","M-0.75,0H-0.33M0,-0.42L0.33,0L0,0.42L-0.33,0Z","M-0.75,0H-0.33M0,-0.42L0.33,0L0,0.42L-0.33,0Z","M-0.75,0H-0.33M0,-0.42L0.33,0L0,0.42L-0.33,0Z"]}}}},
{"transform":[{"filter":"datum.k == 'l'"}],"mark":{"type":"point"},"encoding":{"shape":{"field":"k","type":"nominal","scale":{"domain":["m","s","l","r"],"range":["M-1.1,0H0.1","M-0.75,0H-0.33M0,-0.42L0.33,0L0,0.42L-0.33,0Z","M-0.75,0H-0.33M0,-0.42L0.33,0L0,0.42L-0.33,0Z","M-0.75,0H-0.33M0,-0.42L0.33,0L0,0.42L-0.33,0Z"]}}}},
{"transform":[{"filter":"datum.k == 'r'"}],"mark":{"type":"point"},"encoding":{"shape":{"field":"k","type":"nominal","scale":{"domain":["m","s","l","r"],"range":["M-1.1,0H0.1","M-0.75,0H-0.33M0,-0.42L0.33,0L0,0.42L-0.33,0Z","M-0.75,0H-0.33M0,-0.42L0.33,0L0,0.42L-0.33,0Z","M-0.75,0H-0.33M0,-0.42L0.33,0L0,0.42L-0.33,0Z"]}}}}
]}
]
}
]
}
